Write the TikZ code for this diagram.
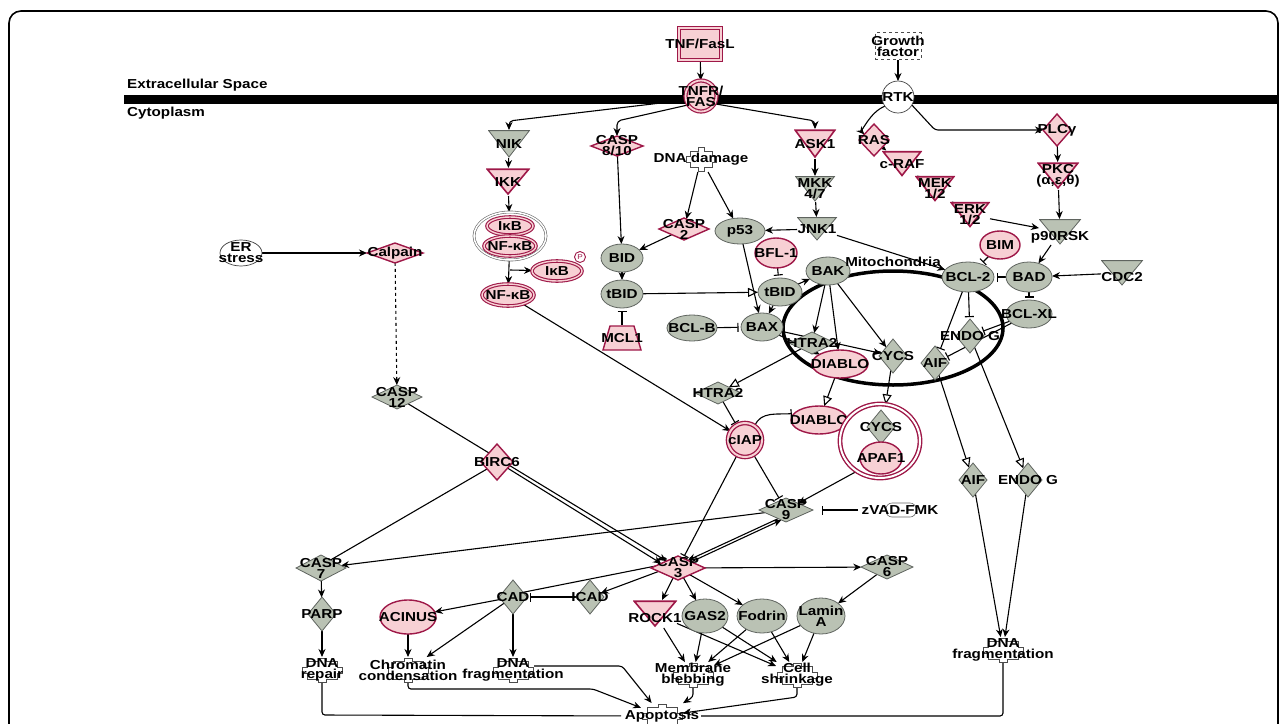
\documentclass[tikz,border=0pt]{standalone}
\usepackage{fontspec}
\newfontfamily\lblfont{Liberation Sans}[FakeStretch=1.17]
\usetikzlibrary{arrows.meta,shapes.geometric}
\definecolor{rb}{RGB}{158,24,72}
\definecolor{rf}{RGB}{247,208,212}
\definecolor{gf}{RGB}{186,194,180}
\definecolor{gb}{RGB}{95,100,95}
\pgfdeclarelayer{back}
\pgfdeclarelayer{edges}
\pgfsetlayers{back,edges,main}
\tikzset{
 base/.style={inner sep=0pt, outer sep=0pt},
 lbl/.style={font=\lblfont\bfseries\fontsize{13}{11}\selectfont, align=center, inner sep=0pt, text=black},
 rE/.style 2 args={base, ellipse, minimum width=#1pt, minimum height=#2pt, draw=rb, fill=rf, line width=1.4pt},
 rDE/.style 2 args={base, ellipse, minimum width=#1pt, minimum height=#2pt, draw=rb, double=rf, double distance=1.4pt, line width=1.1pt, fill=rf},
 gE/.style 2 args={base, ellipse, minimum width=#1pt, minimum height=#2pt, draw=gb, fill=gf, line width=0.8pt},
 wE/.style 2 args={base, ellipse, minimum width=#1pt, minimum height=#2pt, draw=black!75, fill=white, line width=0.7pt},
 rD/.style 2 args={base, diamond, minimum width=#1pt, minimum height=#2pt, draw=rb, fill=rf, line width=1.4pt},
 gD/.style 2 args={base, diamond, minimum width=#1pt, minimum height=#2pt, draw=gb, fill=gf, line width=0.8pt},
 rT/.style 2 args={base, rectangle, minimum width=#1pt, minimum height=#2pt, path picture={\draw[draw=rb, fill=rf, line width=1.6pt] ([xshift=1.2pt,yshift=-1.2pt]path picture bounding box.north west) -- ([xshift=-1.2pt,yshift=-1.2pt]path picture bounding box.north east) -- ([yshift=2pt]path picture bounding box.south) -- cycle;}},
 gT/.style 2 args={base, rectangle, minimum width=#1pt, minimum height=#2pt, path picture={\draw[draw=gb, fill=gf, line width=0.8pt] ([xshift=0.6pt,yshift=-0.6pt]path picture bounding box.north west) -- ([xshift=-0.6pt,yshift=-0.6pt]path picture bounding box.north east) -- ([yshift=1pt]path picture bounding box.south) -- cycle;}},
 trap/.style={base, rectangle, minimum width=40pt, minimum height=26pt, path picture={\draw[draw=rb, fill=rf, line width=1.4pt] ([xshift=1pt,yshift=1pt]path picture bounding box.south west) -- ([xshift=-1pt,yshift=1pt]path picture bounding box.south east) -- ([xshift=-8pt,yshift=-1pt]path picture bounding box.north east) -- ([xshift=8pt,yshift=-1pt]path picture bounding box.north west) -- cycle;}},
 cog/.style={base, rectangle, minimum width=42pt, minimum height=26pt, path picture={\begin{scope}[shift={(path picture bounding box.center)}]\draw[draw=black!70, fill=white, line width=0.6pt] (-15,-9) -- (-4,-9) -- (-4,-12) -- (4,-12) -- (4,-9) -- (15,-9) -- (15,-3) -- (20,-3) -- (20,3) -- (15,3) -- (15,9) -- (4,9) -- (4,12) -- (-4,12) -- (-4,9) -- (-15,9) -- (-15,3) -- (-20,3) -- (-20,-3) -- (-15,-3) -- cycle;\end{scope}}},
 cogS/.style={base, rectangle, minimum width=32pt, minimum height=26pt, path picture={\begin{scope}[shift={(path picture bounding box.center)}]\draw[draw=black!70, fill=white, line width=0.6pt] (-11,-8) -- (-3,-8) -- (-3,-12) -- (3,-12) -- (3,-8) -- (11,-8) -- (11,-3) -- (15,-3) -- (15,3) -- (11,3) -- (11,8) -- (3,8) -- (3,12) -- (-3,12) -- (-3,8) -- (-11,8) -- (-11,3) -- (-15,3) -- (-15,-3) -- (-11,-3) -- cycle;\end{scope}}},
 ln/.style={line width=1.1pt},
 arr/.style={-{Stealth[length=8pt,width=7pt]}, line width=1.1pt},
 oarr/.style={-{Triangle[open,length=10pt,width=9pt]}, line width=1.1pt},
 inh/.style={-{Bar[width=9pt,line width=1.1pt]}, line width=1.1pt, shorten >=2.5pt},
}
\newcommand\nd[4]{\node[#1] (#2) at (#3) {}; \node[lbl] (#2t) at (#3) {#4};}
\newcommand\ndo[5]{\node[#1] (#2) at (#3) {}; \node[lbl] (#2t) at (#4) {#5};}
\begin{document}
\begin{tikzpicture}[x=1pt,y=-1pt]
\useasboundingbox (0,0) rectangle (1287,723);
\begin{pgfonlayer}{back}
\draw[line width=1.6pt, rounded corners=12pt] (9,760) -- (9,11) -- (1278,11) -- (1278,760);
\fill[black] (124,95) rectangle (1278,104);
\draw[line width=3.5pt] (893,328) ellipse [x radius=110pt, y radius=57pt];
\end{pgfonlayer}
\node[lbl, anchor=west] (ecs) at (127,85) {Extracellular Space};
\node[lbl, anchor=west] (cyto) at (127,113) {Cytoplasm};
% top
\nd{base,rectangle,minimum width=42pt,minimum height=32pt,draw=rb,double=rf,double distance=2pt,line width=1.3pt,fill=rf}{tnf}{700,44}{TNF/FasL}
\nd{base,circle,minimum size=31pt,draw=rb,double=rf,double distance=1.8pt,line width=1.2pt,fill=rf}{tnfr}{701,96}{TNFR/\\FAS}
\nd{base,rectangle,minimum width=46pt,minimum height=27pt,draw=black!70,dashed,fill=white,line width=0.6pt}{gf}{898,46}{Growth\\factor}
\nd{wE={32}{32}}{rtk}{898,97}{RTK}
\nd{gT={42}{28}}{nik}{509,144}{NIK}
\nd{rD={52}{20}}{casp810}{617,146}{CASP\\8/10}
\nd{cogS}{dnadmg}{701,159}{DNA damage}
\nd{rT={42}{30}}{ask1}{815,144}{ASK1}
\nd{rD={30}{32}}{ras}{874,140}{RAS}
\nd{rT={40}{27}}{craf}{902,164}{c-RAF}
\nd{rT={40}{27}}{mek}{935,189}{MEK\\1/2}
\nd{rT={40}{27}}{erk}{970,215}{ERK\\1/2}
\nd{rD={28}{32}}{plc}{1057,130}{PLCγ}
\nd{rT={42}{28}}{pkc}{1058,176}{PKC\\(α,ε,θ)}
\nd{gT={40}{26}}{mkk}{815,189}{MKK\\4/7}
\nd{gT={40}{24}}{jnk}{817,229}{JNK1}
\nd{rT={44}{28}}{ikk}{508,182}{IKK}
\node[base, ellipse, minimum width=72pt, minimum height=48pt, draw=black!60, double=white, double distance=1.5pt, line width=0.6pt, fill=white] (cplx) at (510,236) {};
\nd{rDE={46}{18}}{ikba}{510,226}{IκB}
\nd{rDE={52}{20}}{nfkba}{510,246}{NF-κB}
\nd{rDE={50}{20}}{ikbp}{557,271}{IκB}
\node[base,circle,minimum size=11pt,draw=rb,line width=0.9pt,fill=white] (pc) at (580,257) {};
\node[lbl, font=\lblfont\fontsize{7}{7}\selectfont, text=rb] (pct) at (580,257) {P};
\nd{rDE={52}{22}}{nfkb}{508,295}{NF-κB}
\nd{wE={42}{26}}{er}{241,253}{ER\\stress}
\nd{rD={56}{20}}{calpain}{395,253}{Calpain}
\nd{gD={50}{24}}{casp12}{397,397}{CASP\\12}
\nd{rD={50}{22}}{casp2}{684,229}{CASP\\2}
\nd{gE={50}{26}}{p53}{740,231}{p53}
\nd{gE={42}{28}}{bid}{622,258}{BID}
\nd{gE={42}{28}}{tbida}{622,294}{tBID}
\nd{trap}{mcl1}{622,338}{MCL1}
\nd{rE={42}{30}}{bfl}{776,253}{BFL-1}
\nd{gE={44}{28}}{tbidb}{780,292}{tBID}
\nd{gE={44}{28}}{bak}{828,271}{BAK}
\nd{gE={42}{28}}{bax}{762,327}{BAX}
\nd{gE={50}{26}}{bclb}{692,328}{BCL-B}
\node[lbl] (mitot) at (893,262) {Mitochondria};
\nd{gE={52}{30}}{bcl2}{968,277}{BCL-2}
\nd{rE={40}{28}}{bim}{1000,245}{BIM}
\ndo{gT={42}{26}}{p90}{1060,232}{1060,237}{p90RSK}
\nd{gE={46}{30}}{bad}{1029,277}{BAD}
\ndo{gT={42}{26}}{cdc2}{1122,273}{1122,277}{CDC2}
\nd{gE={46}{28}}{bclxl}{1029,314}{BCL-XL}
\nd{gD={28}{34}}{endoa}{970,336}{ENDO G}
\nd{gD={28}{34}}{aifa}{935,363}{AIF}
\nd{rE={56}{28}}{diabloa}{840,364}{DIABLO}
\nd{gD={28}{34}}{cycsa}{893,356}{CYCS}
\nd{gD={46}{22}}{htraa}{812,343}{HTRA2}
\nd{gD={46}{22}}{htrab}{718,393}{HTRA2}
\nd{rE={56}{28}}{diablob}{819,420}{DIABLO}
\node[base, ellipse, minimum width=80pt, minimum height=74pt, draw=rb, double=white, double distance=2pt, line width=1.4pt, fill=white] (cring) at (880,441) {};
\nd{gD={28}{34}}{cycsb}{881,427}{CYCS}
\nd{rE={42}{32}}{apaf}{881,458}{APAF1}
\nd{base,circle,minimum size=34pt,draw=rb,double=rf,double distance=2pt,line width=1.3pt,fill=rf}{ciap}{745,440}{cIAP}
\nd{gD={54}{24}}{casp9}{786,510}{CASP\\9}
\node[base, rectangle, rounded corners=6pt, minimum width=30pt, minimum height=14pt, draw=black!60, line width=0.6pt, fill=white] (zvad) at (901,510) {};
\node[lbl] (zvadt) at (900,510) {zVAD-FMK};
\nd{gD={28}{34}}{aifb}{973,480}{AIF}
\nd{gD={28}{34}}{endob}{1028,480}{ENDO G}
\nd{rD={32}{36}}{birc}{497,462}{BIRC6}
\nd{gD={50}{26}}{casp7}{321,568}{CASP\\7}
\nd{rD={54}{24}}{casp3}{678,568}{CASP\\3}
\nd{gD={52}{24}}{casp6}{887,567}{CASP\\6}
\nd{gD={28}{34}}{parp}{322,614}{PARP}
\nd{rE={56}{34}}{acinus}{408,617}{ACINUS}
\nd{gD={28}{34}}{cad}{513,597}{CAD}
\nd{gD={28}{34}}{icad}{590,597}{ICAD}
\ndo{rT={44}{28}}{rock}{655,614}{655,618}{ROCK1}
\nd{gE={46}{34}}{gas}{705,616}{GAS2}
\nd{gE={50}{34}}{fodrin}{762,616}{Fodrin}
\nd{gE={48}{36}}{lamin}{821,616}{Lamin\\A}
\nd{cog}{dnarep}{322,670}{DNA\\repair}
\nd{cog}{chrom}{408,670}{Chromatin\\condensation}
\nd{cog}{dnafa}{513,670}{DNA\\fragmentation}
\nd{cog}{memb}{693,675}{Membrane\\blebbing}
\nd{cog}{shrink}{797,675}{Cell\\shrinkage}
\nd{cog}{dnafb}{1003,650}{DNA\\fragmentation}
\nd{cog}{apop}{662,716}{Apoptosis}
\coordinate (br) at (510,270);
\begin{pgfonlayer}{edges}
\draw[arr] (tnf) -- (tnfr);
\draw[arr] (gf) -- (rtk);
\draw[arr, rounded corners=4pt] (tnfr.195) -- (509,121) -- (nik);
\draw[arr, rounded corners=4pt] (tnfr.215) -- (617,121) -- (casp810);
\draw[arr, rounded corners=4pt] (tnfr.330) -- (815,121) -- (ask1);
\draw[arr] (rtk.215) .. controls (870,112) and (862,132) .. (ras.150);
\draw[arr, rounded corners=3pt] (rtk.330) -- (935,130) -- (plc);
\draw[arr] (ras) -- (craf);
\draw[arr] (craf) -- (mek);
\draw[arr] (mek) -- (erk);
\draw[arr] (erk) -- (p90);
\draw[arr] (plc) -- (pkc);
\draw[arr] (pkc) -- (p90);
\draw[arr] (ask1) -- (mkk);
\draw[arr] (mkk) -- (jnk);
\draw[arr] (nik) -- (ikk);
\draw[arr] (ikk) -- (cplx);
\draw[arr] (cplx) -- (nfkb);
\draw[arr] (br) -- (ikbp);
\draw[arr] (nfkb) -- (ciap);
\draw[arr] (er) -- (calpain);
\draw[arr, dashed] (calpain) -- (casp12);
\draw[arr] (casp12) -- (casp3);
\draw[arr] (birc.330) -- (casp3.165);
\draw[ln] (birc.215) -- (casp7.40);
\draw[arr] (casp9) -- (casp7);
\draw[arr] (casp9.228) -- (casp3.38);
\draw[arr] (casp3.25) -- (casp9.245);
\draw[inh] (ciap) -- (casp3);
\draw[inh] (ciap) -- (casp9);
\draw[arr] (apaf) -- (casp9);
\draw[inh, shorten <=28pt, shorten >=9pt] (zvad) -- (casp9);
\draw[inh] (htrab) -- (ciap);
\draw[oarr] (htraa) -- (htrab);
\draw[oarr] (diabloa) -- (diablob);
\draw[oarr] (cycsa) -- (cring);
\draw[inh] (ciap.55) to[out=70, in=185] (diablob.165);
\draw[oarr] (aifa) -- (aifb);
\draw[oarr] (endoa) -- (endob);
\draw[arr] (aifb) -- (dnafb);
\draw[arr] (endob) -- (dnafb);
\draw[arr] (casp3) -- (casp6);
\draw[arr] (casp3) -- (rock);
\draw[arr] (casp3) -- (gas);
\draw[arr] (casp3) -- (fodrin);
\draw[arr] (casp3.190) -- (icad);
\draw[ln] (casp3.175) -- (cad.25);
\draw[inh] (icad) -- (cad);
\draw[arr] (casp6) -- (lamin);
\draw[arr] (casp7) -- (parp);
\draw[arr] (parp) -- (dnarep);
\draw[arr] (cad) -- (acinus);
\draw[arr] (cad) -- (chrom);
\draw[arr] (cad) -- (dnafa);
\draw[arr] (acinus) -- (chrom);
\foreach \s in {rock,gas,fodrin,lamin} {\draw[arr] (\s) -- (memb); \draw[arr] (\s) -- (shrink);}
\draw[arr, rounded corners=3pt] (memb.south) -- (693,697) -- (apop);
\draw[arr, rounded corners=3pt] (shrink.south) -- (797,697) -- (apop);
\draw[ln, rounded corners=3pt, shorten >=20pt] (dnarep.south) -- (322,715) -- (apop.west);
\draw[arr, rounded corners=3pt] (chrom.south) -- (408,689) -- (593,689) -- (apop);
\draw[arr, rounded corners=3pt] ([yshift=4pt]dnafa.east) -- (622,666) -- (apop);
\draw[ln, rounded corners=3pt, shorten >=18pt] (dnafb.south) -- (1003,716) -- (apop.east);
\draw[arr] (casp810) -- (bid);
\draw[arr] (dnadmg) -- (casp2);
\draw[arr] (dnadmg) -- (p53);
\draw[arr] (casp2) -- (bid);
\draw[arr] (jnk) -- (p53);
\draw[arr] (jnk) -- (bcl2);
\draw[arr] (bid) -- (tbida);
\draw[inh] (mcl1) -- (tbida);
\draw[oarr] (tbida) -- (tbidb);
\draw[inh] (bfl) -- (tbidb);
\draw[arr] (tbidb) -- (bak);
\draw[arr] (tbidb) -- (bax);
\draw[arr] (p53) -- (bax);
\draw[inh] (bclb) -- (bax);
\draw[arr] (bak) -- (htraa);
\draw[arr] (bak) -- (diabloa);
\draw[arr] (bak) -- (cycsa);
\draw[arr] (bax) -- (diabloa);
\draw[arr] (bax) -- (cycsa);
\draw[inh] (bcl2) -- (aifa);
\draw[inh] (bcl2) -- (endoa);
\draw[inh] (bclxl) -- (endoa);
\draw[inh] (bclxl) -- (aifa);
\draw[inh] (bim) -- (bcl2);
\draw[inh] (bad) -- (bcl2);
\draw[inh] (bad) -- (bclxl);
\draw[arr] (p90) -- (bad);
\draw[arr] (cdc2) -- (bad);
\end{pgfonlayer}
\end{tikzpicture}
\end{document}
